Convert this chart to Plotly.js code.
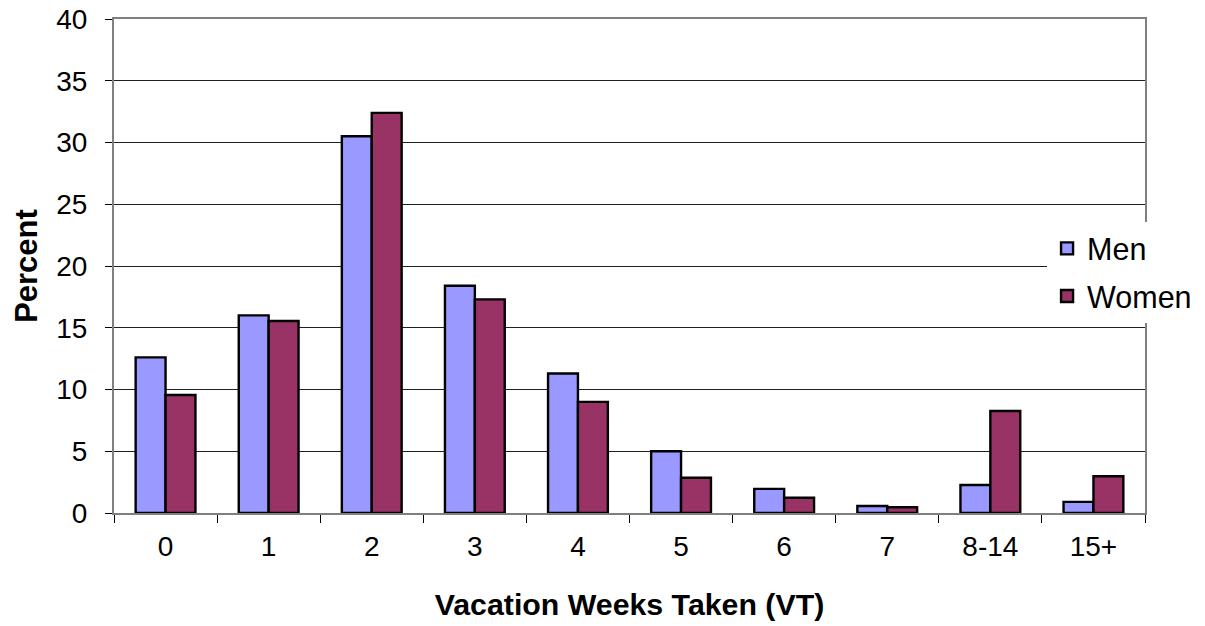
<!DOCTYPE html>
<html>
<head>
<meta charset="utf-8">
<script src="https://cdn.plot.ly/plotly-3.0.1.min.js"></script>
<style>html,body{margin:0;padding:0;background:#fff;}#chart{width:1205px;height:626px;}</style>
</head>
<body>
<div id="chart"></div>
<script>
const categories = ["0", "1", "2", "3", "4", "5", "6", "7", "8-14", "15+"];
const menValues = [12.6, 16.0, 30.5, 18.4, 11.3, 5.0, 1.95, 0.57, 2.27, 0.9];
const womenValues = [9.55, 15.55, 32.4, 17.3, 9.0, 2.86, 1.24, 0.46, 8.26, 2.97];
const yTicks = [0, 5, 10, 15, 20, 25, 30, 35, 40];

const FONT = "Liberation Sans, Arial, sans-serif";

const traces = [
  {
    type: "bar", name: "Men", x: categories, y: menValues,
    legendgroup: "a",
    marker: {color: "#9999FF", line: {color: "#000000", width: 2.4}}
  },
  {
    type: "bar", name: "Women", x: categories, y: womenValues,
    legendgroup: "b",
    marker: {color: "#993366", line: {color: "#000000", width: 2.4}}
  }
];

const layout = {
  width: 1205, height: 626,
  margin: {l: 114, r: 60, t: 19, b: 113, autoexpand: false},
  paper_bgcolor: "#ffffff", plot_bgcolor: "#ffffff",
  font: {family: FONT, size: 28, color: "#000"},
  barmode: "group", bargap: 0.42, bargroupgap: 0,
  showlegend: true,
  legend: {
    x: 0.905, xanchor: "left", y: 0.589, yanchor: "top",
    bgcolor: "#ffffff", borderwidth: 0,
    font: {family: FONT, size: 30.5, color: "#000"},
    traceorder: "grouped", tracegroupgap: 5
  },
  xaxis: {
    type: "category",
    tickson: "boundaries", ticks: "outside", ticklen: 8, tickcolor: "#000", tickwidth: 1,
    showline: true, linecolor: "#808080", linewidth: 2, mirror: true,
    showgrid: false, zeroline: false,
    tickfont: {family: FONT, size: 28, color: "#000"},
    ticklabelstandoff: 7,
    title: {text: "<b>Vacation Weeks Taken (VT)</b>", font: {family: FONT, size: 30.3, color: "#000"}, standoff: 33}
  },
  yaxis: {
    range: [0, 40], tickvals: yTicks, ticktext: yTicks.map(String),
    ticks: "outside", ticklen: 7, tickcolor: "#000", tickwidth: 1,
    showline: true, linecolor: "#808080", linewidth: 2, mirror: true,
    showgrid: true, gridcolor: "#202020", gridwidth: 1,
    zeroline: false,
    tickfont: {family: FONT, size: 28, color: "#000"},
    ticklabelstandoff: 12,
    title: {text: "<b>Percent</b>", font: {family: FONT, size: 31, color: "#000"}, standoff: 9}
  }
};

Plotly.newPlot("chart", traces, layout, {staticPlot: true, displayModeBar: false});
</script>
</body>
</html>
